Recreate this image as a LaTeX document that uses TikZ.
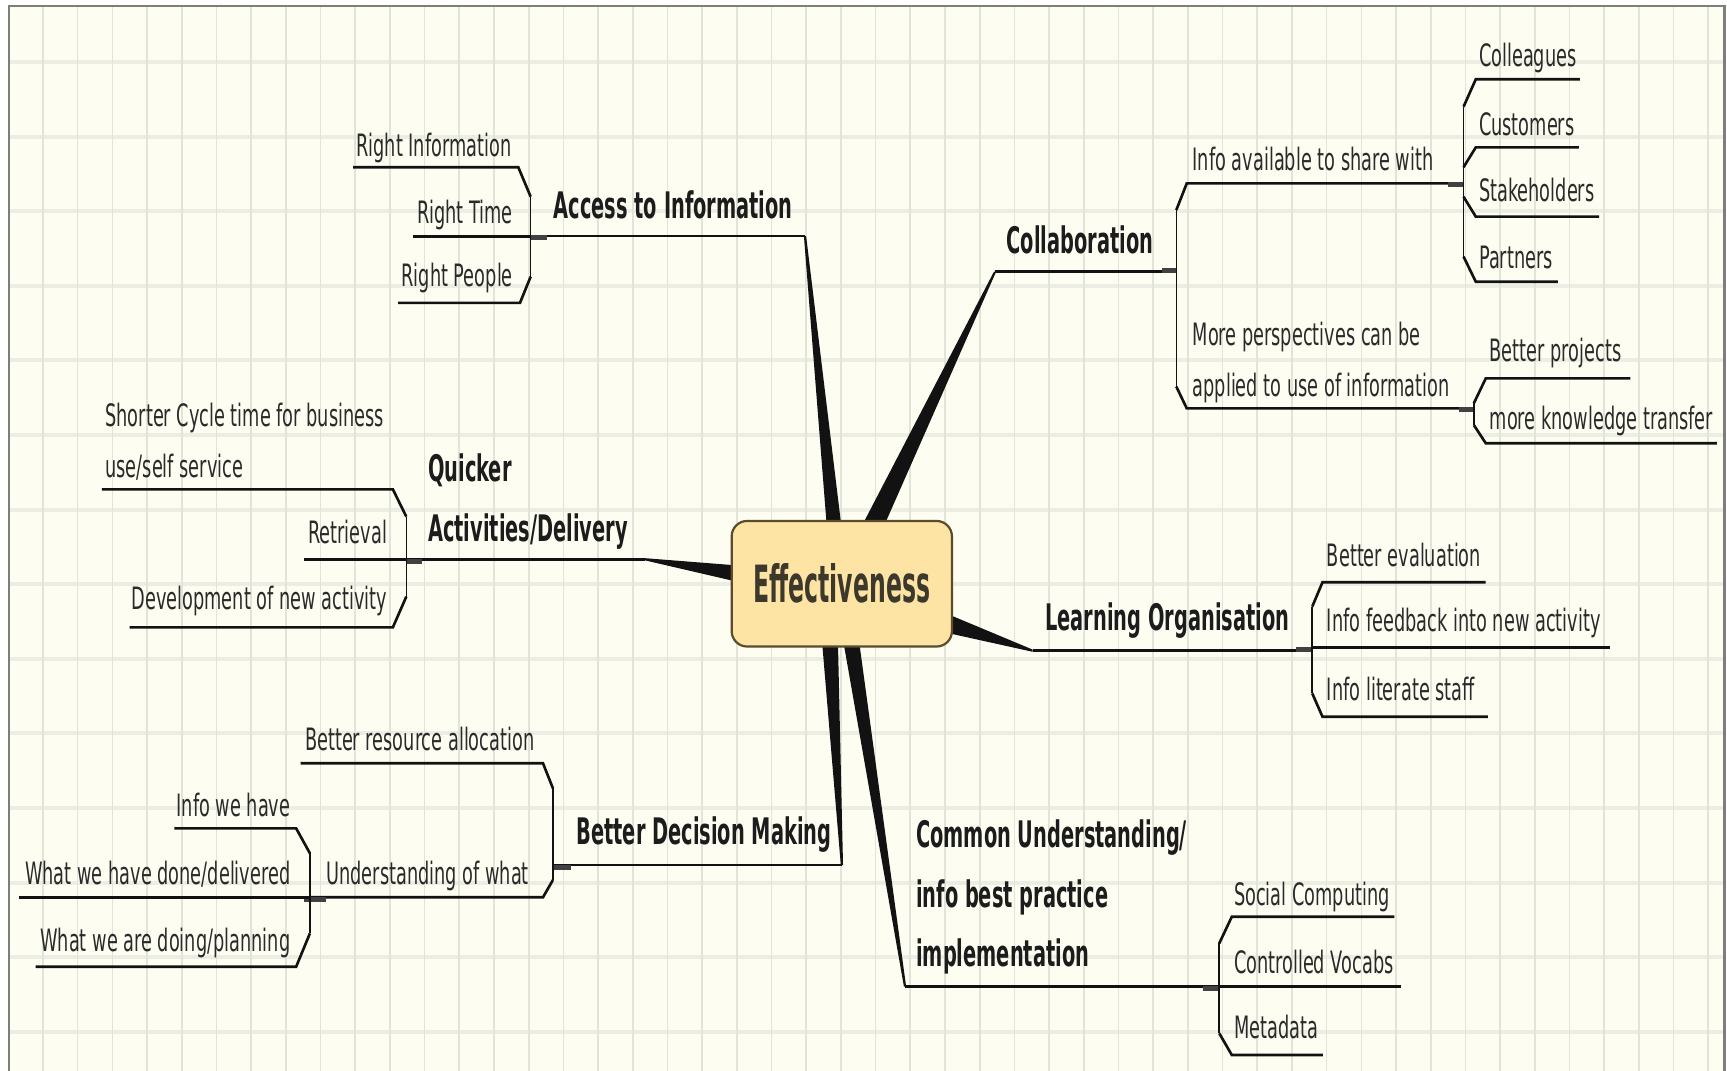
\documentclass[tikz,border=0pt]{standalone}
\usepackage{fontspec}
\usetikzlibrary{calc}
\newfontfamily\leaffont[FakeStretch=0.575]{DejaVu Sans}
\newfontfamily\topicfont[FakeStretch=0.53]{DejaVu Sans}
\newfontfamily\centrefont[FakeStretch=0.46]{DejaVu Sans}
\definecolor{paper}{HTML}{FDFDF2}
\definecolor{vgridc}{HTML}{E1E5D9}
\definecolor{hgridc}{HTML}{ECEEE3}
\definecolor{framec}{HTML}{7E7E7A}
\definecolor{inkline}{HTML}{121212}
\definecolor{leafink}{HTML}{2A2A2A}
\definecolor{topicink}{HTML}{1C1C1C}
\definecolor{centrefill}{HTML}{FDE4A4}
\definecolor{centredraw}{HTML}{5A4C2C}
\definecolor{centreink}{HTML}{3C392C}
\begin{document}
\begin{tikzpicture}[x=0.5pt,y=-0.5pt,
  leaf/.style={inner sep=0pt, text=leafink, align=left,
    font=\leaffont\fontsize{14pt}{23pt}\selectfont},
  topic/.style={inner sep=0pt, text=topicink, align=left,
    font=\topicfont\bfseries\fontsize{16.6pt}{27pt}\selectfont},
  uline/.style={draw=inkline, line width=1.2pt, line join=miter},
  spine/.style={draw=inkline, line width=0.7pt},
  stub/.style={draw=inkline!80, line width=2.2pt},
  wedge/.style={fill=inkline},
  vgrid/.style={draw=vgridc, line width=0.75pt},
  hgrid/.style={draw=hgridc, line width=1.8pt}]

\useasboundingbox (0,0) rectangle (1568,972);
\fill[white] (0,0) rectangle (1568,972);
\fill[paper] (8.2,5.4) rectangle (1566,972);

% squared paper
\foreach \j in {0,...,13} \draw[hgrid] (8.2,{56.3+67.73*\j}) -- (1566,{56.3+67.73*\j});
\foreach \i in {0,...,48} \draw[vgrid] ({39+31.5*\i},5.4) -- ({39+31.5*\i},972);

% page frame
\draw[framec, line width=1.3pt] (8.2,972) -- (8.2,5.4) -- (1566,5.4) -- (1566,972);

% ends of the main branches
\coordinate (access-end) at (730.9,214.3);
\coordinate (collab-end) at (903.4,246.7);
\coordinate (quick-end)  at (585.7,507.8);
\coordinate (learn-end)  at (937.6,590.8);
\coordinate (decide-end) at (764.4,785.4);
\coordinate (common-end) at (821.7,895.8);

% tapered main branches
\fill[wedge] ($(access-end)+(-1,0)$) -- ($(access-end)+(1,0)$) -- (766,495) -- (752,495) -- cycle;
\fill[wedge] ($(collab-end)+(-1,0)$) -- ($(collab-end)+(1,0)$) -- (794.9,495) -- (773.4,495) -- cycle;
\fill[wedge] ($(quick-end)+(0,-1)$) -- (690,515) -- (690,533) -- ($(quick-end)+(0,1)$) -- cycle;
\fill[wedge] ($(learn-end)+(0,-1)$) -- (840,549) -- (840,570.2) -- ($(learn-end)+(0,1)$) -- cycle;
\fill[wedge] ($(decide-end)+(-1,0)$) -- (745.3,570) -- (760.5,570) -- ($(decide-end)+(1,0)$) -- cycle;
\fill[wedge] ($(common-end)+(-1,0)$) -- (763.5,570) -- (778.3,570) -- ($(common-end)+(1,0)$) -- cycle;

% central topic
\node[draw=centredraw, line width=1pt, fill=centrefill, rounded corners=7pt,
      minimum width=100pt, minimum height=57pt, inner sep=0pt,
      text=centreink, font=\centrefont\bfseries\fontsize{23.3pt}{28pt}\selectfont]
  (eff) at (764.3,530) {Effectiveness};

% ---- Access to Information
\draw[uline] (481.8,214.3) -- (access-end);
\draw[stub] (481.8,215.8) -- (496.6,215.8);
\draw[spine] (481.8,178.6) -- (481.8,251.2);
\draw[uline] (320.5,151.9) -- (470.6,151.9) -- (481.8,178.6);
\draw[uline] (374.7,214.9) -- (481.8,214.9);
\draw[uline] (361.4,275) -- (472.1,275) -- (481.8,251.2);
\node[topic, anchor=base west] (access) at (502.4,198.2) {Access to Information};
\node[leaf, anchor=base east] (rinfo) at (464.6,142.3) {Right Information};
\node[leaf, anchor=base east] (rtime) at (466,202.8) {Right Time};
\node[leaf, anchor=base east] (rpeople) at (466,260.3) {Right People};

% ---- Collaboration
\draw[uline] (collab-end) -- (1068,246.7);
\draw[stub] (1054.7,245.5) -- (1068,245.5);
\draw[spine] (1068,190.7) -- (1068,351);
\draw[uline] (1068,190.7) -- (1077.5,166.5) -- (1328.8,166.5);
\draw[uline] (1068,351) -- (1077.5,370.8) -- (1338.2,370.8);
\draw[stub] (1315,167.5) -- (1328.8,167.5);
\draw[stub] (1325,372) -- (1338.2,372);
% shared-with group
\draw[spine] (1328.8,96.9) -- (1328.8,233);
\draw[uline] (1328.8,96.9) -- (1339.9,72) -- (1434.4,72);
\draw[uline] (1328.8,151.8) -- (1339.9,133.8) -- (1433.4,133.8);
\draw[uline] (1328.8,178.7) -- (1339.9,196.7) -- (1451.8,196.7);
\draw[uline] (1328.8,233) -- (1339.9,255.8) -- (1414.4,255.8);
% perspectives group
\draw[spine] (1338.2,366) -- (1338.2,386);
\draw[uline] (1338.2,366) -- (1349,343.5) -- (1480.2,343.5);
\draw[uline] (1338.2,386) -- (1349,402.5) -- (1558.8,402.5);
\node[topic, anchor=base west] (collab) at (913.4,230) {Collaboration};
\node[leaf, anchor=base west] (share) at (1082.5,154.4) {Info available to share with};
\node[leaf, anchor=base west] (persp) at (1082.5,360) {More perspectives can be\\applied to use of information};
\node[leaf, anchor=base west] (colleagues) at (1342.5,60.5) {Colleagues};
\node[leaf, anchor=base west] (customers) at (1342.5,122.6) {Customers};
\node[leaf, anchor=base west] (stake) at (1342.5,183.1) {Stakeholders};
\node[leaf, anchor=base west] (partners) at (1342.5,243.6) {Partners};
\node[leaf, anchor=base west] (projects) at (1352.2,328.4) {Better projects};
\node[leaf, anchor=base west] (transfer) at (1352.2,390.4) {more knowledge transfer};

% ---- Quicker Activities/Delivery
\draw[uline] (368.9,507.8) -- (quick-end);
\draw[stub] (368.9,509.5) -- (383,509.5);
\draw[spine] (368.9,469.1) -- (368.9,541.7);
\draw[uline] (92.4,444.3) -- (356.7,444.3) -- (368.9,469.1);
\draw[uline] (275.6,507.8) -- (368.9,507.8);
\draw[uline] (117.6,569.6) -- (356.7,569.6) -- (368.9,541.7);
\node[topic, anchor=base west] (quick) at (388.3,491.5) {Quicker\\Activities/Delivery};
\node[leaf, anchor=base west] (cycle) at (95.3,433.4) {Shorter Cycle time for business\\use/self service};
\node[leaf, anchor=base east] (retrieval) at (351.8,493.3) {Retrieval};
\node[leaf, anchor=base east] (develop) at (351.8,553.8) {Development of new activity};

% ---- Better Decision Making
\draw[uline] (502,785.4) -- (decide-end);
\draw[stub] (503,787.5) -- (518,787.5);
\draw[spine] (502,715.7) -- (502,799);
\draw[uline] (272.9,693) -- (493,693) -- (502,715.7);
\draw[uline] (281.4,814.7) -- (493,814.7) -- (502,799);
% understanding group
\draw[stub] (276,816.5) -- (296,816.5);
\draw[spine] (281.4,774.8) -- (281.4,847.4);
\draw[uline] (158.4,752.1) -- (268.9,752.1) -- (281.4,774.8);
\draw[uline] (17.4,814.7) -- (281.4,814.7);
\draw[uline] (32.4,877.7) -- (268.9,877.7) -- (281.4,847.4);
\node[topic, anchor=base west] (decide) at (523,767.2) {Better Decision Making};
\node[leaf, anchor=base east] (resource) at (485.6,681) {Better resource allocation};
\node[leaf, anchor=base east] (underst) at (480.6,803.5) {Understanding of what};
\node[leaf, anchor=base east] (have) at (264,741.5) {Info we have};
\node[leaf, anchor=base east] (done) at (264,803.5) {What we have done/delivered};
\node[leaf, anchor=base east] (doing) at (264,864) {What we are doing/planning};

% ---- Learning Organisation
\draw[uline] (learn-end) -- (1191.4,590.8);
\draw[stub] (1176.6,589.6) -- (1191.4,589.6);
\draw[spine] (1191.4,550.8) -- (1191.4,629.5);
\draw[uline] (1191.4,550.8) -- (1200.7,528.7) -- (1348.9,528.7);
\draw[uline] (1191.4,587.6) -- (1462,587.6);
\draw[uline] (1191.4,629.5) -- (1200.7,650.7) -- (1350.8,650.7);
\node[topic, anchor=base west] (learn) at (948.7,572) {Learning Organisation};
\node[leaf, anchor=base west] (evaluation) at (1204.4,514.5) {Better evaluation};
\node[leaf, anchor=base west] (feedback) at (1204.4,573.5) {Info feedback into new activity};
\node[leaf, anchor=base west] (literate) at (1204.4,635.6) {Info literate staff};

% ---- Common Understanding
\draw[uline] (common-end) -- (1107,895.8);
\draw[stub] (1092.4,897.5) -- (1107,897.5);
\draw[spine] (1107,856.5) -- (1107,938.2);
\draw[uline] (1107,856.5) -- (1118.4,832.3) -- (1266,832.3);
\draw[uline] (1107,895.8) -- (1272.4,895.8);
\draw[uline] (1107,938.2) -- (1118.4,957.9) -- (1201.1,957.9);
\node[topic, anchor=base west] (common) at (831.4,877.7) {Common Understanding/\\info best practice\\implementation};
\node[leaf, anchor=base west] (social) at (1120,821.7) {Social Computing};
\node[leaf, anchor=base west] (vocabs) at (1120,883.7) {Controlled Vocabs};
\node[leaf, anchor=base west] (metadata) at (1120,942.7) {Metadata};
\end{tikzpicture}
\end{document}
